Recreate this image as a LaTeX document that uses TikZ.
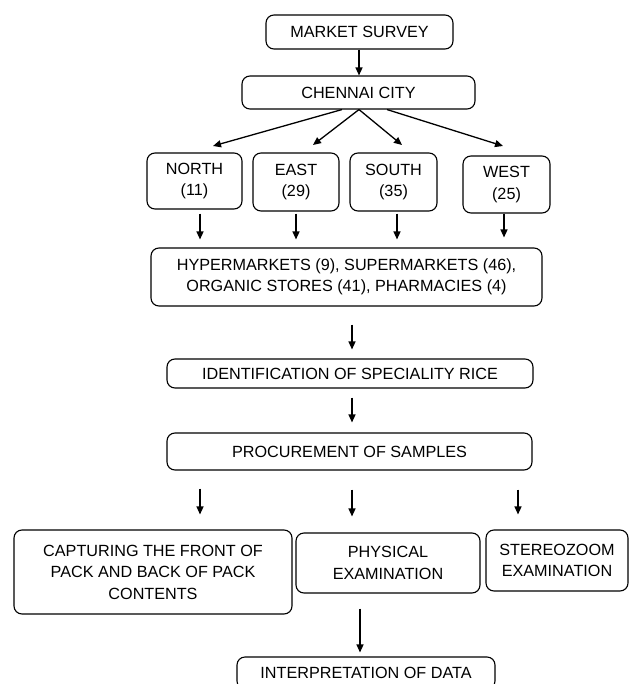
\documentclass[tikz,border=0pt]{standalone}
\usepackage{fontspec}
\setmainfont{Liberation Sans}
\usetikzlibrary{arrows.meta}
\begin{document}
\begin{tikzpicture}[x=1pt,y=-1pt,
  box/.style={draw, rounded corners=8pt, line width=1.1pt, inner sep=0pt, align=center,
    font=\fontsize{16.2}{21.5}\selectfont},
  arr/.style={line width=1.3pt, -{Triangle[length=8pt,width=7pt]}}]
\useasboundingbox (0,0) rectangle (629,684);
\clip (0,0) rectangle (629,684);
\node[box, minimum width=187pt, minimum height=34pt] (ms) at (359.5,32) {MARKET SURVEY};
\node[box, minimum width=233pt, minimum height=33pt] (cc) at (358.5,92.5) {CHENNAI CITY};
\node[box, minimum width=95pt, minimum height=56pt] (north) at (194.5,181) {NORTH\\(11)};
\node[box, minimum width=86pt, minimum height=58pt] (east) at (296,182) {EAST\\(29)};
\node[box, minimum width=87pt, minimum height=58pt] (south) at (393.5,182) {SOUTH\\(35)};
\node[box, minimum width=87pt, minimum height=57pt] (west) at (506.5,184.5) {WEST\\(25)};
\node[box, minimum width=391pt, minimum height=58pt] (hyp) at (346.5,277) {HYPERMARKETS (9), SUPERMARKETS (46),\\ORGANIC STORES (41), PHARMACIES (4)};
\node[box, minimum width=366pt, minimum height=29pt] (ident) at (350,373.5) {IDENTIFICATION OF SPECIALITY RICE};
\node[box, minimum width=365pt, minimum height=37pt] (proc) at (349.5,451.5) {PROCUREMENT OF SAMPLES};
\node[box, minimum width=278pt, minimum height=84pt] (cap) at (153,572) {CAPTURING THE FRONT OF\\PACK AND BACK OF PACK\\CONTENTS};
\node[box, minimum width=184pt, minimum height=60pt] (phys) at (388,563) {PHYSICAL\\EXAMINATION};
\node[box, minimum width=142pt, minimum height=61pt] (stereo) at (557,560.5) {STEREOZOOM\\EXAMINATION};
\node[box, minimum width=258pt, minimum height=32pt] (interp) at (366,673) {INTERPRETATION OF DATA};
% connectors
\draw[arr] (ms.south -| 359,0) -- (cc.north -| 359,0);
\coordinate (tn) at (213,146);
\coordinate (te) at (313,145);
\coordinate (ts) at (402,145);
\coordinate (tw) at (503,146);
\draw[arr] (cc.south -| 342,0) -- (tn);
\draw[arr] (cc.south -| 359,0) -- (te);
\draw[arr] (cc.south -| 359,0) -- (ts);
\draw[arr] (cc.south -| 387,0) -- (tw);
\draw[arr, shorten <=4pt, shorten >=8pt] (north.south -| 200,0) -- (hyp.north -| 200,0);
\draw[arr, shorten <=2pt, shorten >=8pt] (east.south -| 296,0) -- (hyp.north -| 296,0);
\draw[arr, shorten <=2pt, shorten >=8pt] (south.south -| 397,0) -- (hyp.north -| 397,0);
\draw[arr, shorten <=0pt, shorten >=10pt] (west.south -| 504,0) -- (hyp.north -| 504,0);
\draw[arr, shorten <=18pt, shorten >=9pt] (hyp.south -| 352,0) -- (ident.north -| 352,0);
\draw[arr, shorten <=9pt, shorten >=10pt] (ident.south -| 352,0) -- (proc.north -| 352,0);
\draw[arr, shorten <=18pt, shorten >=15pt] (proc.south -| 200,0) -- (cap.north -| 200,0);
\draw[arr, shorten <=19pt, shorten >=16pt] (proc.south -| 352,0) -- (phys.north -| 352,0);
\draw[arr, shorten <=19pt, shorten >=15pt] (proc.south -| 518,0) -- (stereo.north -| 518,0);
\draw[arr, shorten <=15pt, shorten >=4pt] (phys.south -| 360,0) -- (interp.north -| 360,0);
\end{tikzpicture}
\end{document}
